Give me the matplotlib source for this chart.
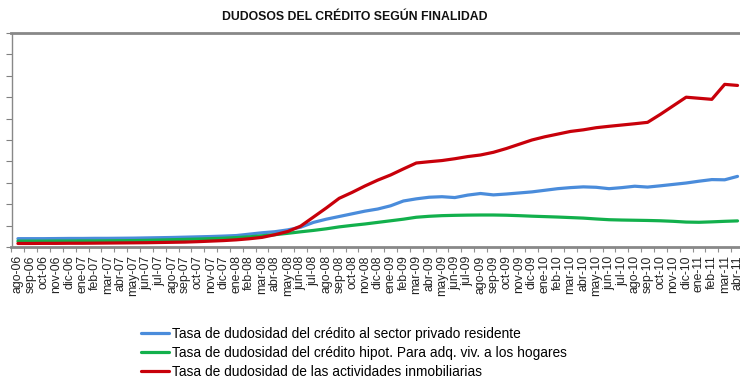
import matplotlib
matplotlib.use("Agg")
import matplotlib.pyplot as plt
import numpy as np

months = ["ago-06", "sep-06", "oct-06", "nov-06", "dic-06",
          "ene-07", "feb-07", "mar-07", "abr-07", "may-07", "jun-07", "jul-07",
          "ago-07", "sep-07", "oct-07", "nov-07", "dic-07",
          "ene-08", "feb-08", "mar-08", "abr-08", "may-08", "jun-08", "jul-08",
          "ago-08", "sep-08", "oct-08", "nov-08", "dic-08",
          "ene-09", "feb-09", "mar-09", "abr-09", "may-09", "jun-09", "jul-09",
          "ago-09", "sep-09", "oct-09", "nov-09", "dic-09",
          "ene-10", "feb-10", "mar-10", "abr-10", "may-10", "jun-10", "jul-10",
          "ago-10", "sep-10", "oct-10", "nov-10", "dic-10",
          "ene-11", "feb-11", "mar-11", "abr-11"]

sector_privado = [0.78, 0.78, 0.78, 0.79, 0.80, 0.80, 0.81, 0.81, 0.82, 0.83,
                  0.85, 0.87, 0.89, 0.92, 0.95, 0.98, 1.02, 1.07, 1.20, 1.33,
                  1.43, 1.60, 1.85, 2.30, 2.60, 2.85, 3.10, 3.35, 3.55, 3.85,
                  4.30, 4.50, 4.65, 4.70, 4.62, 4.85, 5.00, 4.87, 4.95, 5.05,
                  5.15, 5.30, 5.45, 5.55, 5.62, 5.58, 5.45, 5.55, 5.68, 5.60,
                  5.72, 5.85, 5.98, 6.15, 6.30, 6.28, 6.60]

hipotecario = [0.55, 0.55, 0.55, 0.56, 0.56, 0.57, 0.57, 0.58, 0.59, 0.60,
               0.62, 0.65, 0.68, 0.71, 0.74, 0.78, 0.82, 0.88, 0.95, 1.05,
               1.15, 1.28, 1.42, 1.55, 1.70, 1.88, 2.02, 2.15, 2.30, 2.45,
               2.60, 2.78, 2.87, 2.93, 2.96, 2.98, 2.99, 2.99, 2.97, 2.93,
               2.88, 2.84, 2.80, 2.75, 2.70, 2.62, 2.55, 2.52, 2.50, 2.48,
               2.45, 2.40, 2.33, 2.31, 2.35, 2.40, 2.44]

inmobiliarias = [0.33, 0.33, 0.34, 0.34, 0.35, 0.35, 0.36, 0.37, 0.38, 0.39,
                 0.40, 0.42, 0.44, 0.46, 0.50, 0.55, 0.60, 0.67, 0.77, 0.90,
                 1.15, 1.45, 1.95, 2.80, 3.65, 4.55, 5.10, 5.70, 6.25, 6.73,
                 7.30, 7.85, 7.97, 8.08, 8.25, 8.45, 8.60, 8.85, 9.20, 9.60,
                 10.00, 10.30, 10.55, 10.80, 10.95, 11.15, 11.28, 11.40, 11.52, 11.65,
                 12.40, 13.20, 14.00, 13.90, 13.80, 15.20, 15.10]

series_labels = ["Tasa de dudosidad del crédito al sector privado residente",
                 "Tasa de dudosidad del crédito hipot. Para adq. viv. a los hogares",
                 "Tasa de dudosidad de las actividades inmobiliarias"]
title = "DUDOSOS DEL CRÉDITO SEGÚN FINALIDAD"

W, H = 740, 389
fig = plt.figure(figsize=(W / 100, H / 100), dpi=100)
plt.rcParams['font.family'] = ['Liberation Sans', 'DejaVu Sans']

step = 12.85
left_px, top_px, bottom_px = 11.5, 33, 247
ncat = 58
ax = fig.add_axes([left_px / W, (H - bottom_px) / H, ncat * step / W, (bottom_px - top_px) / H])

x = np.arange(len(months))
colors = ["#4A8CDB", "#12B04C", "#C8000A"]
for vals, c, lab in zip([sector_privado, hipotecario, inmobiliarias], colors, series_labels):
    ax.plot(x, vals, color=c, lw=2.3, label=lab, solid_capstyle='round', solid_joinstyle='round')

ax.set_xlim(-0.5, ncat - 0.5)
ax.set_ylim(0, 20)
ax.set_yticks(np.arange(0, 21, 2))
ax.set_yticklabels([])
ax.tick_params(axis='y', direction='out', length=4, width=0.8, color='#808080')

ax.set_xticks(np.arange(-0.5, ncat, 1.0))
ax.set_xticklabels([])
ax.tick_params(axis='x', which='major', direction='out', length=3.5, width=0.8, color='#909090')
ax.set_xticks(x, minor=True)
ax.set_xticklabels(months, minor=True, rotation=90, fontsize=8.8, color='#222222')
ax.tick_params(axis='x', which='minor', length=0, pad=6)

for s in ['top', 'bottom']:
    ax.spines[s].set_color('#888888')
    ax.spines[s].set_linewidth(2.0)
ax.spines['left'].set_color('#888888')
ax.spines['left'].set_linewidth(1.0)
ax.spines['right'].set_visible(False)

fig.text(355 / W, 1 - 17 / H, title, ha='center', va='center', fontsize=8.8, fontweight='bold', color='#111111')

fig.legend(loc='upper left', bbox_to_anchor=(141 / W, 1 - 327 / H), frameon=False,
           fontsize=9.9, handlelength=2.05, handletextpad=0.22, labelspacing=0.36,
           borderpad=0, borderaxespad=0)

fig.savefig("out.png", dpi=100)
